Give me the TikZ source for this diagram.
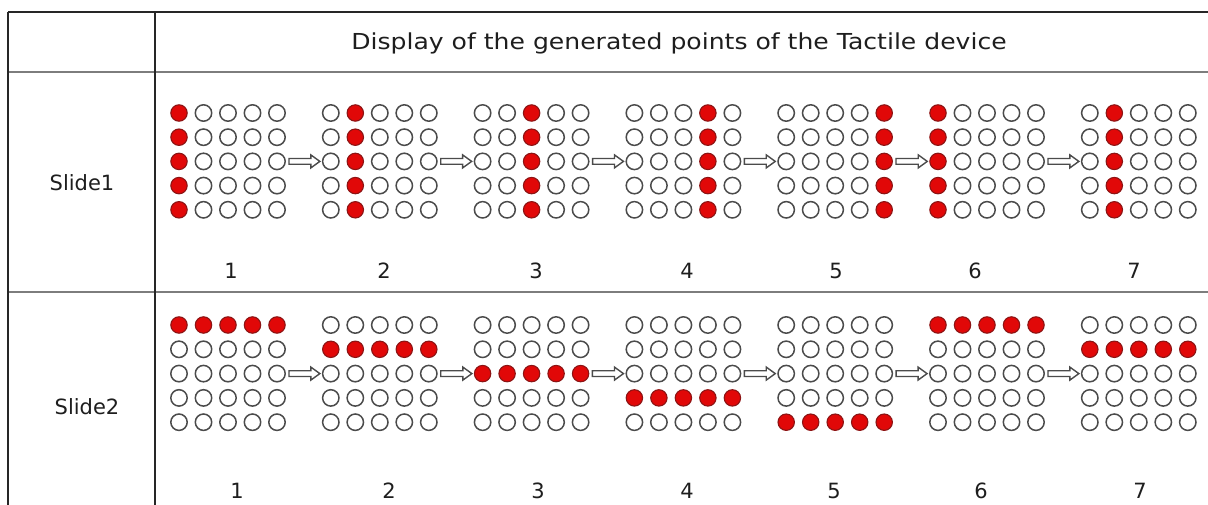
\documentclass[tikz,border=0pt]{standalone}
\usepackage{fontspec}
\setmainfont{DejaVu Sans}
\usetikzlibrary{calc}
\definecolor{dotred}{RGB}{225,8,8}
\definecolor{dotedge}{RGB}{140,20,20}
\definecolor{ringgray}{RGB}{75,75,75}
\definecolor{rulegray}{RGB}{125,125,125}
\definecolor{txt}{RGB}{30,30,30}
\begin{document}
\begin{tikzpicture}[x=1pt,y=-1pt,
  dot/.style={circle,inner sep=0pt,minimum size=16.4pt,line width=1.5pt},
  ondot/.style={dot,fill=dotred,draw=dotedge,line width=1.1pt},
  offdot/.style={dot,fill=white,draw=ringgray},
  lbl/.style={font=\fontsize{21}{24}\selectfont,text=txt,inner sep=0pt},
  arrowbox/.style={draw=ringgray,fill=white,line width=1.4pt,line join=miter},
  outer/.style={draw=black!85,line width=1.8pt},
  inner/.style={draw=rulegray,line width=2.8pt}]
\useasboundingbox (0,0) rectangle (1208,505);
\fill[white] (0,0) rectangle (1208,505);
% table rules
\draw[inner] (8,72) -- (1208,72);
\draw[inner] (8,292) -- (1208,292);
\draw[outer] (8,12) -- (1208,12);
\draw[outer] (8,12) -- (8,505);
\draw[outer] (155,12) -- (155,505);
% texts
\node[lbl] (title) at (679,43) {\scalebox{1.14}[1]{\fontsize{22}{26}\selectfont Display of the generated points of the Tactile device}};
\node[lbl] (slideA) at (82,183) {Slide1};
\node[lbl] (slideB) at (87,407) {Slide2};
% slide 1 grids: one column lit
\foreach \k in {1,...,7}{
  \pgfmathsetmacro{\xo}{179+151.8*(\k-1)}
  \pgfmathtruncatemacro{\hot}{mod(\k-1,5)+1}
  \foreach \r in {1,...,5}{
    \foreach \c in {1,...,5}{
      \pgfmathsetmacro{\px}{\xo+24.5*(\c-1)}
      \pgfmathsetmacro{\py}{113+24.2*(\r-1)}
      \ifnum\c=\hot
        \node[ondot] (sA-\k-\r-\c) at (\px,\py) {};
      \else
        \node[offdot] (sA-\k-\r-\c) at (\px,\py) {};
      \fi
    }
  }
}
% slide 2 grids: one row lit
\foreach \k in {1,...,7}{
  \pgfmathsetmacro{\xo}{179+151.8*(\k-1)}
  \pgfmathtruncatemacro{\hot}{mod(\k-1,5)+1}
  \foreach \r in {1,...,5}{
    \foreach \c in {1,...,5}{
      \pgfmathsetmacro{\px}{\xo+24.5*(\c-1)}
      \pgfmathsetmacro{\py}{325+24.3*(\r-1)}
      \ifnum\r=\hot
        \node[ondot] (sB-\k-\r-\c) at (\px,\py) {};
      \else
        \node[offdot] (sB-\k-\r-\c) at (\px,\py) {};
      \fi
    }
  }
}
% arrows between successive grids
\foreach \s in {A,B}{
  \foreach \k in {1,...,6}{
    \pgfmathtruncatemacro{\n}{\k+1}
    \coordinate (as) at ($(s\s-\k-3-5.east)+(3,0)$);
    \coordinate (ae) at ($(s\s-\n-3-1.west)+(-2,0)$);
    \draw[arrowbox] ($(as)+(0,-2.9)$) -- ($(ae)+(-9,-2.9)$) -- ($(ae)+(-9,-6.5)$)
      -- (ae) -- ($(ae)+(-9,6.5)$) -- ($(ae)+(-9,2.9)$) -- ($(as)+(0,2.9)$) -- cycle;
  }
}
% step numbers
\foreach \k/\lx in {1/231,2/384,3/536,4/687,5/836,6/975,7/1134}{
  \node[lbl] (nA-\k) at (\lx,271) {\k};
}
\foreach \k/\lx in {1/237,2/389,3/538,4/687,5/834,6/981,7/1140}{
  \node[lbl] (nB-\k) at (\lx,491) {\k};
}
\end{tikzpicture}
\end{document}
